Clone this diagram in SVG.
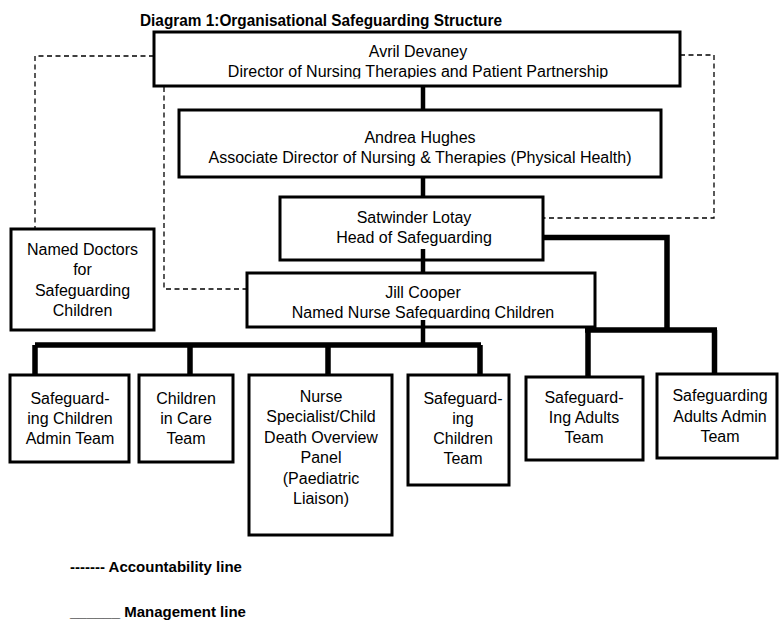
<svg xmlns="http://www.w3.org/2000/svg" width="779" height="624" viewBox="0 0 779 624">
<style>
.box{fill:#fff;stroke:#000;stroke-width:3}
.t{font-family:"Liberation Sans",Arial,sans-serif;font-size:16px;text-anchor:middle;fill:#000}
.b{font-family:"Liberation Sans",Arial,sans-serif;font-weight:bold;fill:#000}
.mg{fill:none;stroke:#000;stroke-width:4.5}
.tk{fill:none;stroke:#000;stroke-width:5.5}
.acc{fill:none;stroke:#000;stroke-width:1.3;stroke-dasharray:5 3.5}
</style>
<defs>
<clipPath id="clipAvril"><rect x="154" y="32" width="526" height="46.5"/></clipPath>
<clipPath id="clipJill"><rect x="247" y="273" width="348" height="46"/></clipPath>
</defs>
<rect width="779" height="624" fill="#fff"/>
<text class="b" x="140" y="26" font-size="16" textLength="362" lengthAdjust="spacingAndGlyphs">Diagram 1:Organisational Safeguarding Structure</text>

<g id="avril">
<rect class="box" x="154" y="32" width="526" height="54"/>
<g clip-path="url(#clipAvril)">
<text class="t" x="418" y="57">Avril Devaney</text>
<text class="t" x="418" y="77">Director of Nursing Therapies and Patient Partnership</text>
</g>
</g>
<g id="andrea">
<rect class="box" x="179" y="110" width="482" height="67"/>
<text class="t" x="420" y="143">Andrea Hughes</text>
<text class="t" x="420" y="163">Associate Director of Nursing &amp; Therapies (Physical Health)</text>
</g>
<g id="satwinder">
<rect class="box" x="280" y="197" width="263" height="63"/>
<text class="t" x="414" y="223">Satwinder Lotay</text>
<text class="t" x="414" y="243">Head of Safeguarding</text>
</g>
<g id="jill">
<rect class="box" x="247" y="273" width="348" height="54"/>
<g clip-path="url(#clipJill)">
<text class="t" x="423" y="298">Jill Cooper</text>
<text class="t" x="423" y="318">Named Nurse Safeguarding Children</text>
</g>
</g>
<g id="named-doctors">
<rect class="box" x="11" y="229" width="143" height="101"/>
<text class="t" x="82.5" y="255">Named Doctors</text>
<text class="t" x="82.5" y="275">for</text>
<text class="t" x="82.5" y="296">Safeguarding</text>
<text class="t" x="82.5" y="316">Children</text>
</g>
<g id="sc-admin">
<rect class="box" x="10" y="375" width="119" height="87"/>
<text class="t" x="70" y="404">Safeguard-</text>
<text class="t" x="70" y="424">ing Children</text>
<text class="t" x="70" y="444">Admin Team</text>
</g>
<g id="children-in-care">
<rect class="box" x="139" y="375" width="94" height="87"/>
<text class="t" x="186" y="404">Children</text>
<text class="t" x="186" y="424">in Care</text>
<text class="t" x="186" y="444">Team</text>
</g>
<g id="nurse-specialist">
<rect class="box" x="249" y="375" width="143" height="160"/>
<text class="t" x="321" y="402">Nurse</text>
<text class="t" x="321" y="422">Specialist/Child</text>
<text class="t" x="321" y="443">Death Overview</text>
<text class="t" x="321" y="463">Panel</text>
<text class="t" x="321" y="484">(Paediatric</text>
<text class="t" x="321" y="504">Liaison)</text>
</g>
<g id="sc-team">
<rect class="box" x="408" y="375" width="101" height="110"/>
<text class="t" x="463" y="404">Safeguard-</text>
<text class="t" x="463" y="424">ing</text>
<text class="t" x="463" y="444">Children</text>
<text class="t" x="463" y="464">Team</text>
</g>
<g id="sa-team">
<rect class="box" x="526" y="377" width="117" height="83"/>
<text class="t" x="584" y="403">Safeguard-</text>
<text class="t" x="584" y="423">Ing Adults</text>
<text class="t" x="584" y="443">Team</text>
</g>
<g id="sa-admin">
<rect class="box" x="657" y="374" width="120" height="84"/>
<text class="t" x="720" y="401">Safeguarding</text>
<text class="t" x="720" y="422">Adults Admin</text>
<text class="t" x="720" y="442">Team</text>
</g>

<g id="connectors">
<path class="mg" d="M423,86V110M423,177V197M423,249V273M423,320V345"/>
<path class="tk" d="M35,345H481M35,345V375M190,345V375M328,345V375M480,345V375"/>
<path class="tk" d="M543,237.5H667V330M585,330H717M588,330V377M714.5,330V374"/>
<path class="acc" d="M154,56H35V229"/>
<path class="acc" d="M680,55H714V218H543"/>
<path class="acc" d="M164,87V289H247"/>
</g>

<g id="legend">
<text class="b" x="70" y="572" font-size="15">------- Accountability line</text>
<text class="b" x="70" y="617" font-size="15">______ Management line</text>
</g>
</svg>
